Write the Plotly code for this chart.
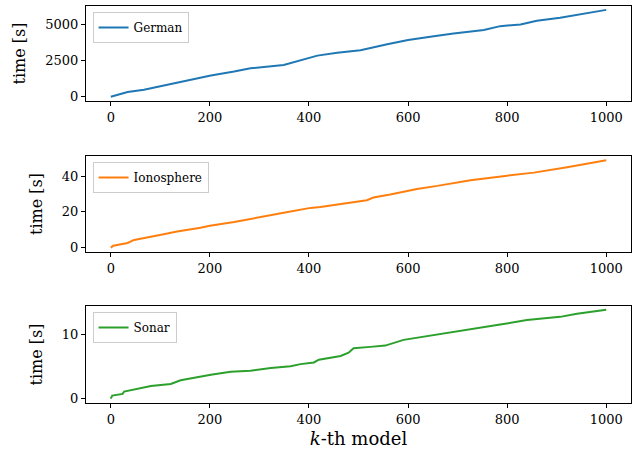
import plotly.graph_objects as go

german_k = [0, 34, 67, 114, 155, 202, 249, 282, 349, 383, 417, 457, 504, 558, 600, 659, 692, 753, 786, 827, 860, 907, 948, 1000]
german_t = [0, 320, 480, 820, 1100, 1460, 1730, 1960, 2190, 2530, 2830, 3030, 3200, 3610, 3900, 4200, 4360, 4590, 4860, 4980, 5230, 5430, 5660, 5980]

iono_k = [0, 5, 34, 47, 94, 134, 181, 200, 249, 316, 349, 403, 423, 517, 530, 564, 618, 659, 726, 800, 854, 921, 961, 1000]
iono_t = [0, 1.1, 2.6, 4.3, 6.8, 9.0, 11.1, 12.2, 14.3, 18.0, 19.5, 22.2, 22.7, 26.5, 28.0, 29.7, 32.8, 34.5, 37.7, 40.2, 41.9, 44.9, 46.8, 48.8]

sonar_k = [0, 3, 24, 27, 81, 121, 141, 202, 242, 282, 323, 363, 383, 410, 420, 464, 480, 490, 524, 554, 591, 659, 712, 786, 840, 907, 941, 1000]
sonar_t = [0, 0.47, 0.74, 1.1, 1.96, 2.3, 2.86, 3.75, 4.2, 4.35, 4.8, 5.08, 5.4, 5.66, 6.1, 6.67, 7.2, 7.9, 8.1, 8.3, 9.2, 10.0, 10.7, 11.6, 12.3, 12.8, 13.3, 13.9]

x_ticks = [0, 200, 400, 600, 800, 1000]
german_yticks = [0, 2500, 5000]
iono_yticks = [0, 20, 40]
sonar_yticks = [0, 10]

FONT = "DejaVu Serif, serif"
fig = go.Figure()

series = [
    ("German", german_k, german_t, "#1f77b4", "legend", "x", "y"),
    ("Ionosphere", iono_k, iono_t, "#ff7f0e", "legend2", "x2", "y2"),
    ("Sonar", sonar_k, sonar_t, "#2ca02c", "legend3", "x3", "y3"),
]
for name, xs, ys, col, leg, xa, ya in series:
    fig.add_trace(go.Scatter(x=xs, y=ys, mode="lines", name=name, showlegend=True,
                             line=dict(color=col, width=2),
                             xaxis=xa, yaxis=ya, legend=leg))

domains = [[0.7607, 1.0], [0.3804, 0.6222], [0.0, 0.2443]]
yranges = [[-297, 6247], [-2.44, 51.2], [-0.69, 14.5]]
yticks = [german_yticks, iono_yticks, sonar_yticks]

axis_common = dict(showline=True, linecolor="black", linewidth=1, mirror=True,
                   ticks="outside", ticklen=4, tickcolor="black", tickwidth=1,
                   showgrid=False, zeroline=False, automargin=False,
                   tickfont=dict(family=FONT, size=13, color="black"))

layout = dict(
    width=637, height=456,
    margin=dict(l=86, r=6, t=6, b=53, autoexpand=False),
    paper_bgcolor="white", plot_bgcolor="white",
    font=dict(family=FONT, size=13, color="black"),
    showlegend=True,
)
for i in range(3):
    sx = "" if i == 0 else str(i + 1)
    xa = dict(axis_common, domain=[0, 1], range=[-50, 1050], tickvals=x_ticks,
              anchor="y" + sx)
    ya = dict(axis_common, domain=domains[i], range=yranges[i], tickvals=yticks[i],
              anchor="x" + sx,
              title=dict(text="time [s]", font=dict(family=FONT, size=16)))
    if i == 2:
        xa["title"] = dict(text="<i>k</i>-th model", font=dict(family=FONT, size=18), standoff=6)
    layout["xaxis" + sx] = xa
    layout["yaxis" + sx] = ya
    leg = dict(x=0.012, y=domains[i][1] - 0.015, xanchor="left", yanchor="top",
               bordercolor="#cccccc", borderwidth=1, bgcolor="rgba(255,255,255,0.8)",
               font=dict(family=FONT, size=12), itemwidth=30, tracegroupgap=0)
    layout["legend" if i == 0 else "legend" + sx] = leg

fig.update_layout(**layout)
fig.write_html("out.html", config={"displayModeBar": False},
               post_script="document.body.style.margin='0';document.body.style.padding='0';")
